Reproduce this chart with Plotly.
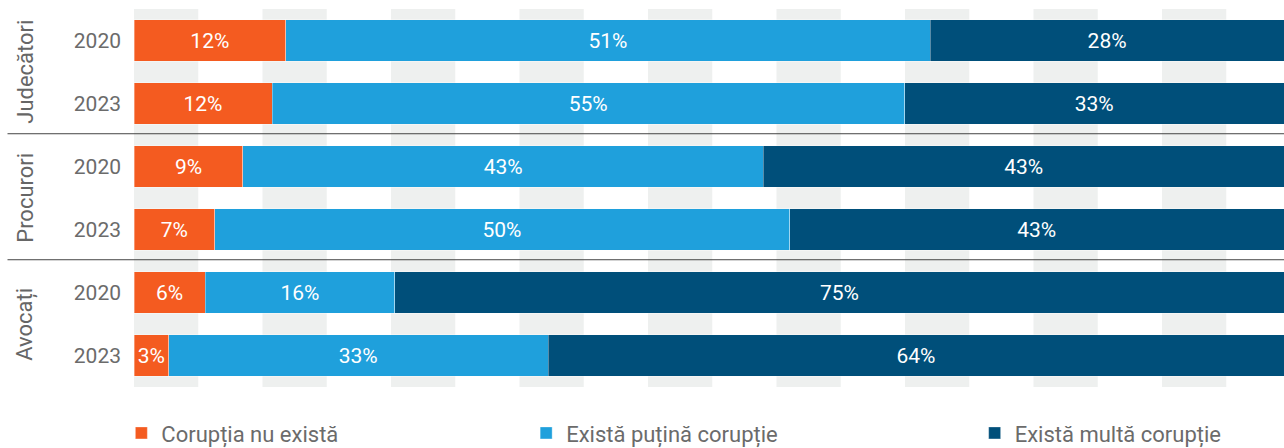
import plotly.graph_objects as go

# categories, top to bottom
groups = ["Judecători", "Procurori", "Avocați"]
years = ["2020", "2023"]
rows = [f"{g} {y}" for g in groups for y in years]
row_labels = [y for g in groups for y in years]

# survey answers (%), one list per series, same order as rows
nu_exista = [12, 12, 9, 7, 6, 3]
putina = [51, 55, 43, 50, 16, 33]
multa = [28, 33, 43, 43, 75, 64]

series = [
    ("Corupția nu există", nu_exista, "#F45B20", "legend"),
    ("Există puțină corupție", putina, "#1FA0DC", "legend2"),
    ("Există multă corupție", multa, "#004F7A", "legend3"),
]

FONT = "Roboto"
GREY = "#6b6b6b"

fig = go.Figure()
for name, vals, color, leg in series:
    fig.add_trace(go.Bar(
        y=rows, x=vals, name=name, orientation="h",
        marker=dict(color=color, line=dict(color="rgba(255,255,255,0.35)", width=1)),
        text=[f"{v}%" for v in vals], textposition="inside",
        insidetextanchor="middle", constraintext="none",
        textfont=dict(color="white", size=21, family=FONT),
        legend=leg, hoverinfo="skip",
    ))

# light grey vertical bands behind the bars
band = 100 * 128.5 / 2 / 1150
shapes = []
x = 0.0
while x < 100:
    shapes.append(dict(type="rect", xref="x", yref="paper", x0=x, x1=min(x + band, 100),
                       y0=0, y1=1, fillcolor="#EEF0EF", line_width=0, layer="below"))
    x += 2 * band

# separators between the groups
for i in range(1, len(groups)):
    shapes.append(dict(type="line", xref="paper", yref="y", x0=-0.11, x1=1,
                       y0=i * 2 - 0.52, y1=i * 2 - 0.52, line=dict(color="#444", width=1)))

# rotated group names
annotations = []
for i, g in enumerate(groups):
    annotations.append(dict(text=g, xref="paper", yref="y", x=-0.095, y=i * 2 + 0.5,
                            xanchor="center", yanchor="middle",
                            textangle=-90, showarrow=False,
                            font=dict(size=22, color="#666", family=FONT)))

leg_common = dict(orientation="h", yanchor="middle", y=-0.122, xanchor="left",
                  font=dict(size=22, color=GREY, family=FONT), bgcolor="rgba(0,0,0,0)")

fig.update_layout(
    width=1284, height=448,
    margin=dict(l=134, r=0, t=9, b=61, autoexpand=False),
    barmode="stack", barnorm="percent", bargap=0.34,
    plot_bgcolor="white", paper_bgcolor="white",
    font=dict(family=FONT, color=GREY),
    xaxis=dict(range=[0, 100], visible=False, fixedrange=True),
    yaxis=dict(categoryorder="array", categoryarray=rows, autorange="reversed",
               tickmode="array", tickvals=rows, ticktext=row_labels,
               tickfont=dict(size=21, color=GREY, family=FONT),
               ticks="", ticklabelstandoff=12, showgrid=False, zeroline=False, showline=False),
    showlegend=True,
    legend=dict(x=-0.011, **leg_common),
    legend2=dict(x=0.341, **leg_common),
    legend3=dict(x=0.731, **leg_common),
    shapes=shapes, annotations=annotations,
    uniformtext=dict(minsize=17, mode="show"),
)

fig.write_html("out.html", config={"displayModeBar": False},
               post_script="document.body.style.margin='0';")
